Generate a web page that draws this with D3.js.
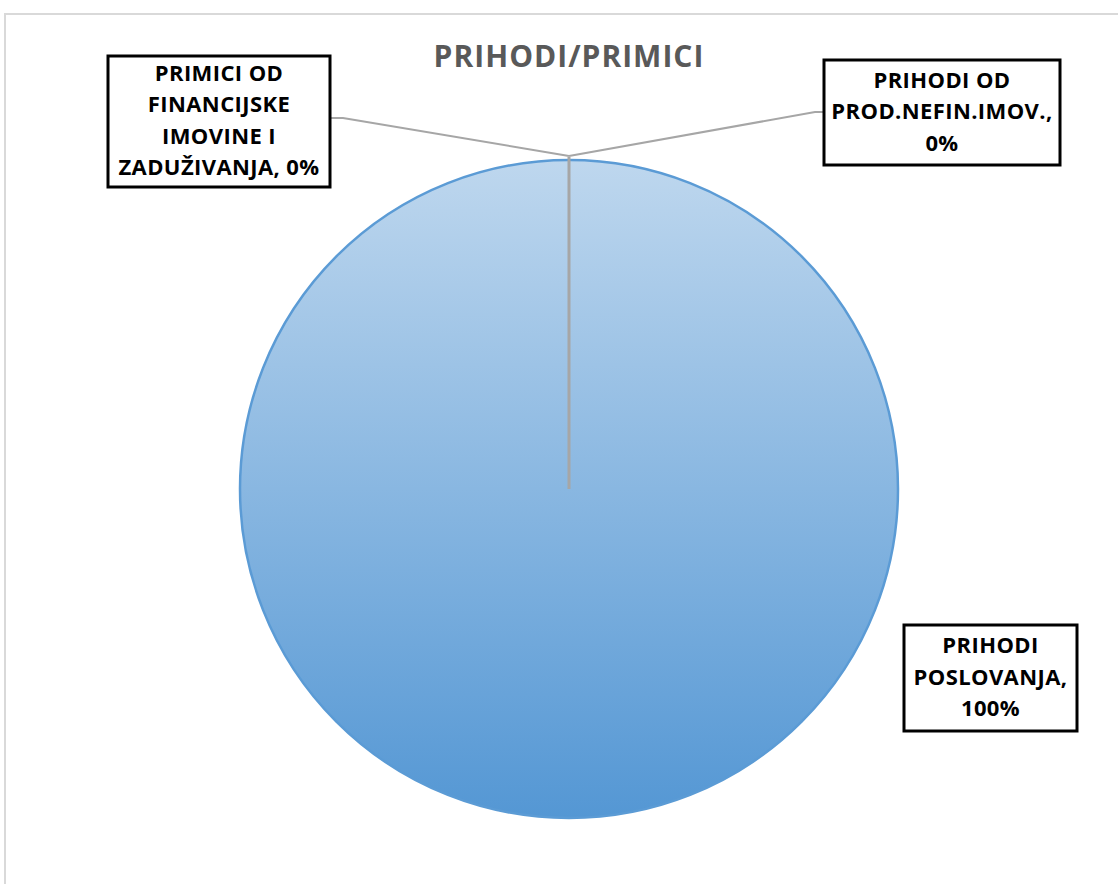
<!DOCTYPE html>
<html lang="hr">
<head>
  <meta charset="UTF-8" />
  <title>PRIHODI/PRIMICI</title>
  <script src="https://d3js.org/d3.v7.min.js"></script>
  <style>
    body {
      margin: 0;
      background: #fff;
      overflow: hidden;
    }
    text {
      font-family: 'Open Sans', sans-serif;
      font-weight: bold;
    }
  </style>
</head>
<body>
<svg width="1118" height="884"></svg>

<script>
// podaci
const kategorije = ["PRIHODI POSLOVANJA", "PRIHODI OD PROD.NEFIN.IMOV.", "PRIMICI OD FINANCIJSKE IMOVINE I ZADUŽIVANJA"];
const udjeli = [100, 0, 0];
const oznake = [
  ["PRIHODI", "POSLOVANJA,", "100%"],
  ["PRIHODI OD", "PROD.NEFIN.IMOV.,", "0%"],
  ["PRIMICI OD", "FINANCIJSKE", "IMOVINE I", "ZADUŽIVANJA, 0%"]
];

const svg = d3.select("svg");
const cx = 569, cy = 489, r = 329;

// okvir
svg.append("path")
  .attr("d", "M5,884 V14 H1118")
  .attr("fill", "none")
  .attr("stroke", "#d9d9d9")
  .attr("stroke-width", 2);

svg.append("text")
  .attr("x", 569).attr("y", 67)
  .attr("text-anchor", "middle")
  .attr("fill", "#595959")
  .style("font-size", "30px")
  .style("letter-spacing", "1px")
  .text("PRIHODI/PRIMICI");

const defs = svg.append("defs");
const grad = defs.append("linearGradient")
  .attr("id", "plava")
  .attr("x1", 0).attr("y1", 0).attr("x2", 0).attr("y2", 1);
grad.append("stop").attr("offset", "0%").attr("stop-color", "#bed7ee");
grad.append("stop").attr("offset", "100%").attr("stop-color", "#5497d4");

const pie = d3.pie().sort(null).value(d => d)(udjeli);
const arc = d3.arc().innerRadius(0).outerRadius(r);

const g = svg.append("g").attr("transform", `translate(${cx},${cy})`);

g.selectAll("path.slice")
  .data(pie.filter(d => d.endAngle > d.startAngle))
  .enter()
  .append("path")
  .attr("class", "slice")
  .attr("d", arc)
  .attr("fill", "url(#plava)")
  .attr("stroke", "#5b9bd5")
  .attr("stroke-width", 2.5);

// rub za kriske od 0%
pie.filter(d => d.endAngle === d.startAngle).slice(0, 1).forEach(d => {
  const [x, y] = d3.pointRadial(d.startAngle, r + 3);
  g.append("line")
    .attr("x1", 0).attr("y1", 0)
    .attr("x2", x).attr("y2", y)
    .attr("stroke", "#a6a6a6")
    .attr("stroke-width", 3);
});

// okviri oznaka
const kutije = [
  { x: 904, y: 625, w: 173, h: 106, lead: null },
  { x: 824, y: 60, w: 236, h: 105, lead: [[815, 112], [824, 112]] },
  { x: 108, y: 56, w: 222, h: 131, lead: [[343, 118], [330, 118]] }
];

kutije.forEach((k, i) => {
  const d = pie[i];
  if (k.lead) {
    const [px, py] = d3.pointRadial(d.startAngle, r + 4);
    svg.append("polyline")
      .attr("points", [[cx + px, cy + py], ...k.lead].map(p => p.join(",")).join(" "))
      .attr("fill", "none")
      .attr("stroke", "#a6a6a6")
      .attr("stroke-width", 2);
  }
  svg.append("rect")
    .attr("x", k.x).attr("y", k.y)
    .attr("width", k.w).attr("height", k.h)
    .attr("fill", "#fff")
    .attr("stroke", "#000")
    .attr("stroke-width", 3);
  const lines = oznake[i];
  const lh = 31.5;
  const y0 = k.y + k.h / 2 - (lines.length - 1) * lh / 2 + 6.5;
  svg.append("text")
    .attr("text-anchor", "middle")
    .attr("fill", "#000")
    .style("font-size", "22px")
    .style("letter-spacing", "0.4px")
    .selectAll("tspan")
    .data(lines)
    .enter()
    .append("tspan")
    .attr("x", k.x + k.w / 2)
    .attr("y", (t, j) => y0 + j * lh)
    .text(t => t);
});
</script>
</body>
</html>
